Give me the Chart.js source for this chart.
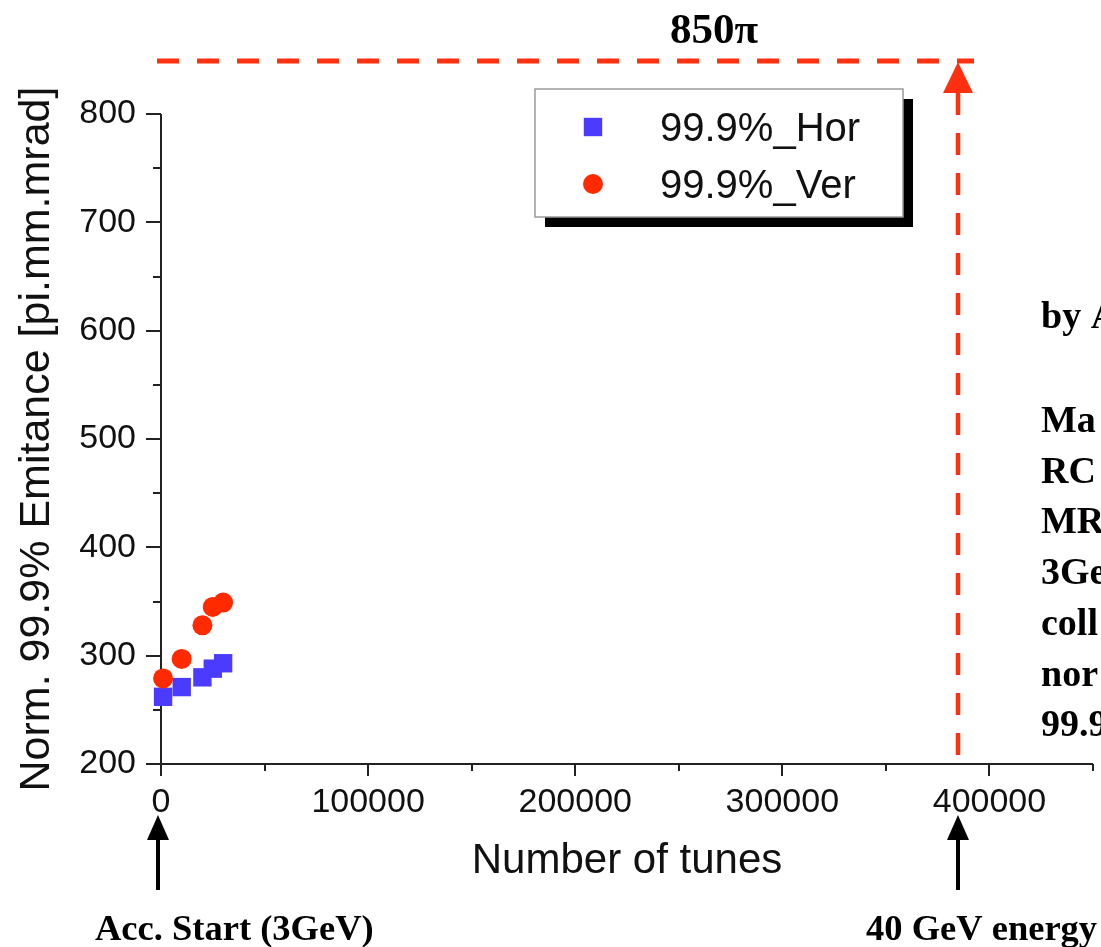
<!DOCTYPE html>
<html>
<head>
<meta charset="utf-8">
<script src="https://cdn.jsdelivr.net/npm/chart.js@4.4.1/dist/chart.umd.min.js"></script>
<style>
  html, body { margin: 0; padding: 0; background: #fff; overflow: hidden; }
</style>
</head>
<body>
<!-- a few px wider than the window: the plot has to reach the right edge -->
<canvas id="emittanceChart" width="1106" height="947"></canvas>
<script>
// measured points (number of tunes -> 99.9% emittance)
const turns = [1000, 10000, 20000, 25000, 30000];
const horEmittance = [262, 271, 280, 288, 293];
const verEmittance = [279, 297, 328, 345, 349];

const xTicks = [0, 100000, 200000, 300000, 400000];
const xMinorTicks = [50000, 150000, 250000, 350000, 450000];
const yTicks = [200, 300, 400, 500, 600, 700, 800];
const yMinorTicks = [250, 350, 450, 550, 650, 750];

// annotations
const limitEmittance = 850;   // 850π acceptance line
const limitLabel = "850\u03c0";
const endTurn = 385000;       // turn where 40 GeV is reached
const startLabel = "Acc. Start (3GeV)";
const endLabel = "40 GeV energy";
const sideNotes = ["Ma", "RC", "MR", "3Ge", "coll", "nor", "99.9"];
const authorNote = "by A";

const RED = "#ff3010";
const SERIF = "'Liberation Serif', 'Times New Roman', serif";
const SANS = "'Liberation Sans', Arial, sans-serif";

// the scales must not push the plot area inwards
const noPadding = () => ({ left: 0, top: 0, right: 0, bottom: 0 });

// axis lines and tick marks (major ticks longer than minor ones)
const axisFrame = {
  id: "axisFrame",
  beforeDatasetsDraw(chart) {
    const { ctx, chartArea: a, scales: { x, y } } = chart;
    ctx.save();
    ctx.strokeStyle = "#222";
    ctx.lineWidth = 2;
    ctx.beginPath();
    ctx.moveTo(a.left, a.top);
    ctx.lineTo(a.left, a.bottom);
    ctx.moveTo(a.left, a.bottom);
    ctx.lineTo(a.right, a.bottom);
    yTicks.forEach((v) => {
      const p = Math.round(y.getPixelForValue(v));
      ctx.moveTo(a.left - 15, p);
      ctx.lineTo(a.left, p);
    });
    yMinorTicks.forEach((v) => {
      const p = Math.round(y.getPixelForValue(v));
      ctx.moveTo(a.left - 8, p);
      ctx.lineTo(a.left, p);
    });
    xTicks.forEach((v) => {
      const p = Math.round(x.getPixelForValue(v));
      ctx.moveTo(p, a.bottom);
      ctx.lineTo(p, a.bottom + 12);
    });
    xMinorTicks.forEach((v) => {
      const p = Math.round(x.getPixelForValue(v));
      ctx.moveTo(p, a.bottom);
      ctx.lineTo(p, a.bottom + 7);
    });
    ctx.stroke();
    ctx.restore();
  },
};

function drawMarker(ctx, ds, cx, cy) {
  ctx.fillStyle = ds.backgroundColor;
  ctx.beginPath();
  if (ds.pointStyle === "rect") {
    const s = ds.pointRadius * Math.SQRT1_2;
    ctx.rect(cx - s, cy - s, 2 * s, 2 * s);
  } else {
    ctx.arc(cx, cy, ds.pointRadius, 0, Math.PI * 2);
  }
  ctx.fill();
}

function arrowUp(ctx, x, tipY, baseY, halfW, color) {
  ctx.fillStyle = color;
  ctx.beginPath();
  ctx.moveTo(x, tipY);
  ctx.lineTo(x + halfW, baseY);
  ctx.lineTo(x - halfW, baseY);
  ctx.closePath();
  ctx.fill();
}

// 850π line, 40 GeV marker, legend box and text notes
const notes = {
  id: "notes",
  afterDraw(chart) {
    const { ctx, chartArea: a, scales: { x, y } } = chart;
    const limY = Math.round(y.getPixelForValue(limitEmittance)) + 1;
    const endX = Math.round(x.getPixelForValue(endTurn));
    const startX = Math.round(x.getPixelForValue(0)) - 3;
    ctx.save();

    // red dashed lines
    ctx.strokeStyle = RED;
    ctx.lineWidth = 5;
    ctx.setLineDash([22, 18]);
    ctx.beginPath();
    ctx.moveTo(a.left - 4, limY);
    ctx.lineTo(endX + 16, limY);
    ctx.stroke();
    ctx.lineWidth = 4.5;
    ctx.beginPath();
    ctx.moveTo(endX, limY + 32);
    ctx.lineTo(endX, a.bottom);
    ctx.stroke();
    ctx.setLineDash([]);
    arrowUp(ctx, endX, limY + 1, limY + 32, 15, RED);

    ctx.fillStyle = "#000";
    ctx.font = "bold 43px " + SERIF;
    ctx.textBaseline = "alphabetic";
    ctx.fillText(limitLabel, 670, 43);

    // black arrows below the axis
    [startX, endX].forEach((px) => {
      ctx.fillStyle = "#000";
      ctx.fillRect(px - 2, 838, 4, 52);
      arrowUp(ctx, px, 815, 840, 11, "#000");
    });
    ctx.font = "bold 36.5px " + SERIF;
    ctx.fillText(startLabel, 95, 940);
    ctx.fillText(endLabel, 866, 940);

    // notes on the right, cut by the page edge
    ctx.font = "bold 38px " + SERIF;
    ctx.fillText(authorNote, 1041, 328);
    sideNotes.forEach((t, i) => ctx.fillText(t, 1041, 432 + i * 50.7));

    // legend with drop shadow
    const lx = 535, ly = 89, lw = 368, lh = 128;
    ctx.fillStyle = "#000";
    ctx.fillRect(lx + 10, ly + 10, lw, lh);
    ctx.fillStyle = "#fff";
    ctx.fillRect(lx, ly, lw, lh);
    ctx.strokeStyle = "#9a9a9a";
    ctx.lineWidth = 1.5;
    ctx.strokeRect(lx, ly, lw, lh);
    ctx.font = "40px " + SANS;
    chart.data.datasets.forEach((ds, i) => {
      const cy = ly + 38 + i * 57;
      drawMarker(ctx, ds, 593, cy);
      ctx.fillStyle = "#111";
      ctx.fillText(ds.label, 660, cy + 14);
    });
    ctx.restore();
  },
};

const ctx = document.getElementById("emittanceChart").getContext("2d");

new Chart(ctx, {
  type: "scatter",
  data: {
    datasets: [
      {
        label: "99.9%_Hor",
        data: turns.map((t, i) => ({ x: t, y: horEmittance[i] })),
        pointStyle: "rect",
        pointRadius: 13,
        backgroundColor: "#4b3bff",
        borderWidth: 0,
        order: 1,
        clip: false,
      },
      {
        label: "99.9%_Ver",
        data: turns.map((t, i) => ({ x: t, y: verEmittance[i] })),
        pointStyle: "circle",
        pointRadius: 10,
        backgroundColor: "#ff2a00",
        borderWidth: 0,
        order: 0,
        clip: false,
      },
    ],
  },
  options: {
    responsive: false,
    animation: false,
    devicePixelRatio: 1,
    events: [],
    layout: { padding: { top: 114, right: 8, left: 0, bottom: 0 } },
    plugins: { legend: { display: false }, tooltip: { enabled: false } },
    scales: {
      x: {
        type: "linear",
        min: 0,
        max: 450000,
        afterBuildTicks: (s) => { s.ticks = xTicks.map((v) => ({ value: v })); },
        afterFit: (s) => {
          s.height = 183;
          s.getPadding = noPadding;
        },
        grid: { display: false, drawTicks: false },
        border: { display: false },
        ticks: {
          autoSkip: false,
          maxRotation: 0,
          padding: 18,
          color: "#111",
          font: { family: SANS, size: 34 },
          callback: (v) => String(v),
        },
        title: {
          display: true,
          text: "Number of tunes",
          color: "#111",
          font: { family: SANS, size: 42 },
          padding: { top: 0, bottom: 60 },
        },
      },
      y: {
        type: "linear",
        min: 200,
        max: 800,
        afterBuildTicks: (s) => { s.ticks = yTicks.map((v) => ({ value: v })); },
        afterFit: (s) => {
          s.width = 161;
          s.getPadding = noPadding;
        },
        grid: { display: false, drawTicks: false },
        border: { display: false },
        ticks: {
          padding: 25,
          color: "#111",
          font: { family: SANS, size: 34 },
        },
        title: {
          display: true,
          text: "Norm. 99.9% Emitance [pi.mm.mrad]",
          color: "#111",
          font: { family: SANS, size: 43 },
          padding: { top: 11, bottom: 0 },
        },
      },
    },
  },
  plugins: [axisFrame, notes],
});
</script>
</body>
</html>
